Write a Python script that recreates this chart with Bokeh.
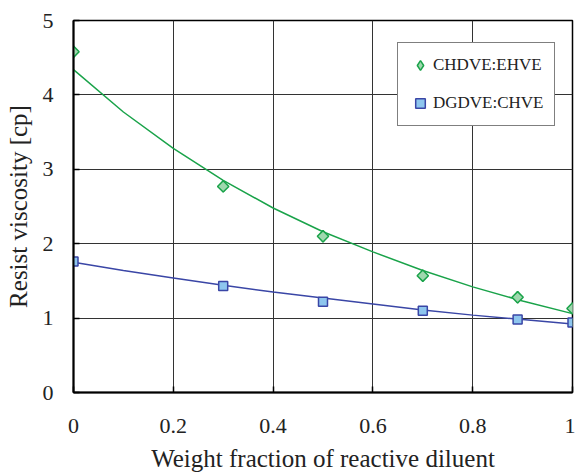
import math
from bokeh.plotting import figure
from bokeh.models import Range1d, FixedTicker, Legend, LegendItem
from bokeh.embed import file_html
from bokeh.resources import INLINE

# measured points
x_pts = [0.0, 0.3, 0.5, 0.7, 0.89, 1.0]
chdve_ehve = [4.58, 2.77, 2.10, 1.57, 1.28, 1.13]
dgdve_chve = [1.76, 1.43, 1.22, 1.10, 0.98, 0.94]

# fitted curves
x_fit = [0.0, 0.1, 0.2, 0.3, 0.4, 0.5, 0.6, 0.7, 0.8, 0.9, 1.0]
chdve_fit = [4.34, 3.77, 3.28, 2.85, 2.48, 2.16, 1.89, 1.64, 1.42, 1.23, 1.06]
dgdve_fit = [1.75, 1.64, 1.54, 1.44, 1.35, 1.27, 1.19, 1.11, 1.04, 0.98, 0.92]

x_ticks = [0, 0.2, 0.4, 0.6, 0.8, 1.0]
x_tick_labels = ["0", "0.2", "0.4", "0.6", "0.8", "1"]
y_ticks = [0, 1, 2, 3, 4, 5]

FONT = "Liberation Serif"
GREEN = "#1aa34a"
GREEN_FILL = "#9fd8ae"
BLUE = "#3a46a6"
BLUE_FILL = "#8ec6ee"

p = figure(width=575, height=475, output_backend="svg", toolbar_location=None,
           x_range=Range1d(0, 1), y_range=Range1d(0, 5),
           min_border_left=73, min_border_right=3, min_border_top=20, min_border_bottom=83)

p.outline_line_color = "black"
p.outline_line_width = 1.5
p.background_fill_color = "white"
p.border_fill_color = "white"

for g in (p.xgrid, p.ygrid):
    g.grid_line_color = "#333333"
    g.grid_line_width = 1

p.xaxis.ticker = FixedTicker(ticks=x_ticks)
p.yaxis.ticker = FixedTicker(ticks=y_ticks)
p.xaxis.major_label_overrides = {t: l for t, l in zip(x_ticks, x_tick_labels)}

for ax in (p.xaxis[0], p.yaxis[0]):
    ax.axis_line_color = "black"
    ax.axis_line_width = 2
    ax.major_tick_in = 6
    ax.major_tick_out = 0
    ax.major_tick_line_color = "black"
    ax.major_tick_line_width = 1.5
    ax.minor_tick_line_color = None
    ax.major_label_text_font = FONT
    ax.major_label_text_font_size = "22px"
    ax.major_label_text_color = "#222222"
    ax.axis_label_text_font = FONT
    ax.axis_label_text_font_size = "25px"
    ax.axis_label_text_font_style = "normal"
    ax.axis_label_text_color = "#222222"

p.xaxis.axis_label = "Weight fraction of reactive diluent"
p.yaxis.axis_label = "Resist viscosity [cp]"
p.xaxis.major_label_standoff = 26
p.yaxis.major_label_standoff = 20
p.xaxis.axis_label_standoff = 9
p.yaxis.axis_label_standoff = 8

p.line(x_fit, chdve_fit, line_color=GREEN, line_width=1.5)
p.line(x_fit, dgdve_fit, line_color=BLUE, line_width=1.5)
# narrow diamond (used for the legend swatch), covered by the rotated square
r1 = p.scatter(x_pts, chdve_ehve, marker="diamond", size=11,
               fill_color=GREEN_FILL, line_color=GREEN, line_width=1.5)
p.scatter(x_pts, chdve_ehve, marker="square", angle=math.pi / 4, size=8,
          fill_color=GREEN_FILL, line_color=GREEN, line_width=1.5)
r2 = p.scatter(x_pts, dgdve_chve, marker="square", size=9, fill_color=BLUE_FILL,
               line_color=BLUE, line_width=1.5)

legend = Legend(items=[LegendItem(label="CHDVE:EHVE", renderers=[r1]),
                       LegendItem(label="DGDVE:CHVE", renderers=[r2])],
                location=(324, 266))
legend.label_text_font = FONT
legend.label_text_font_size = "17px"
legend.label_text_color = "#222222"
legend.padding = 10
legend.spacing = 14
legend.glyph_width = 24
legend.glyph_height = 24
legend.label_standoff = 1
legend.label_height = 20
legend.border_line_color = "black"
legend.border_line_width = 1
legend.background_fill_color = "white"
legend.background_fill_alpha = 1
legend.margin = 0
p.add_layout(legend, "center")

open("out.html", "w").write(file_html(p, INLINE))
